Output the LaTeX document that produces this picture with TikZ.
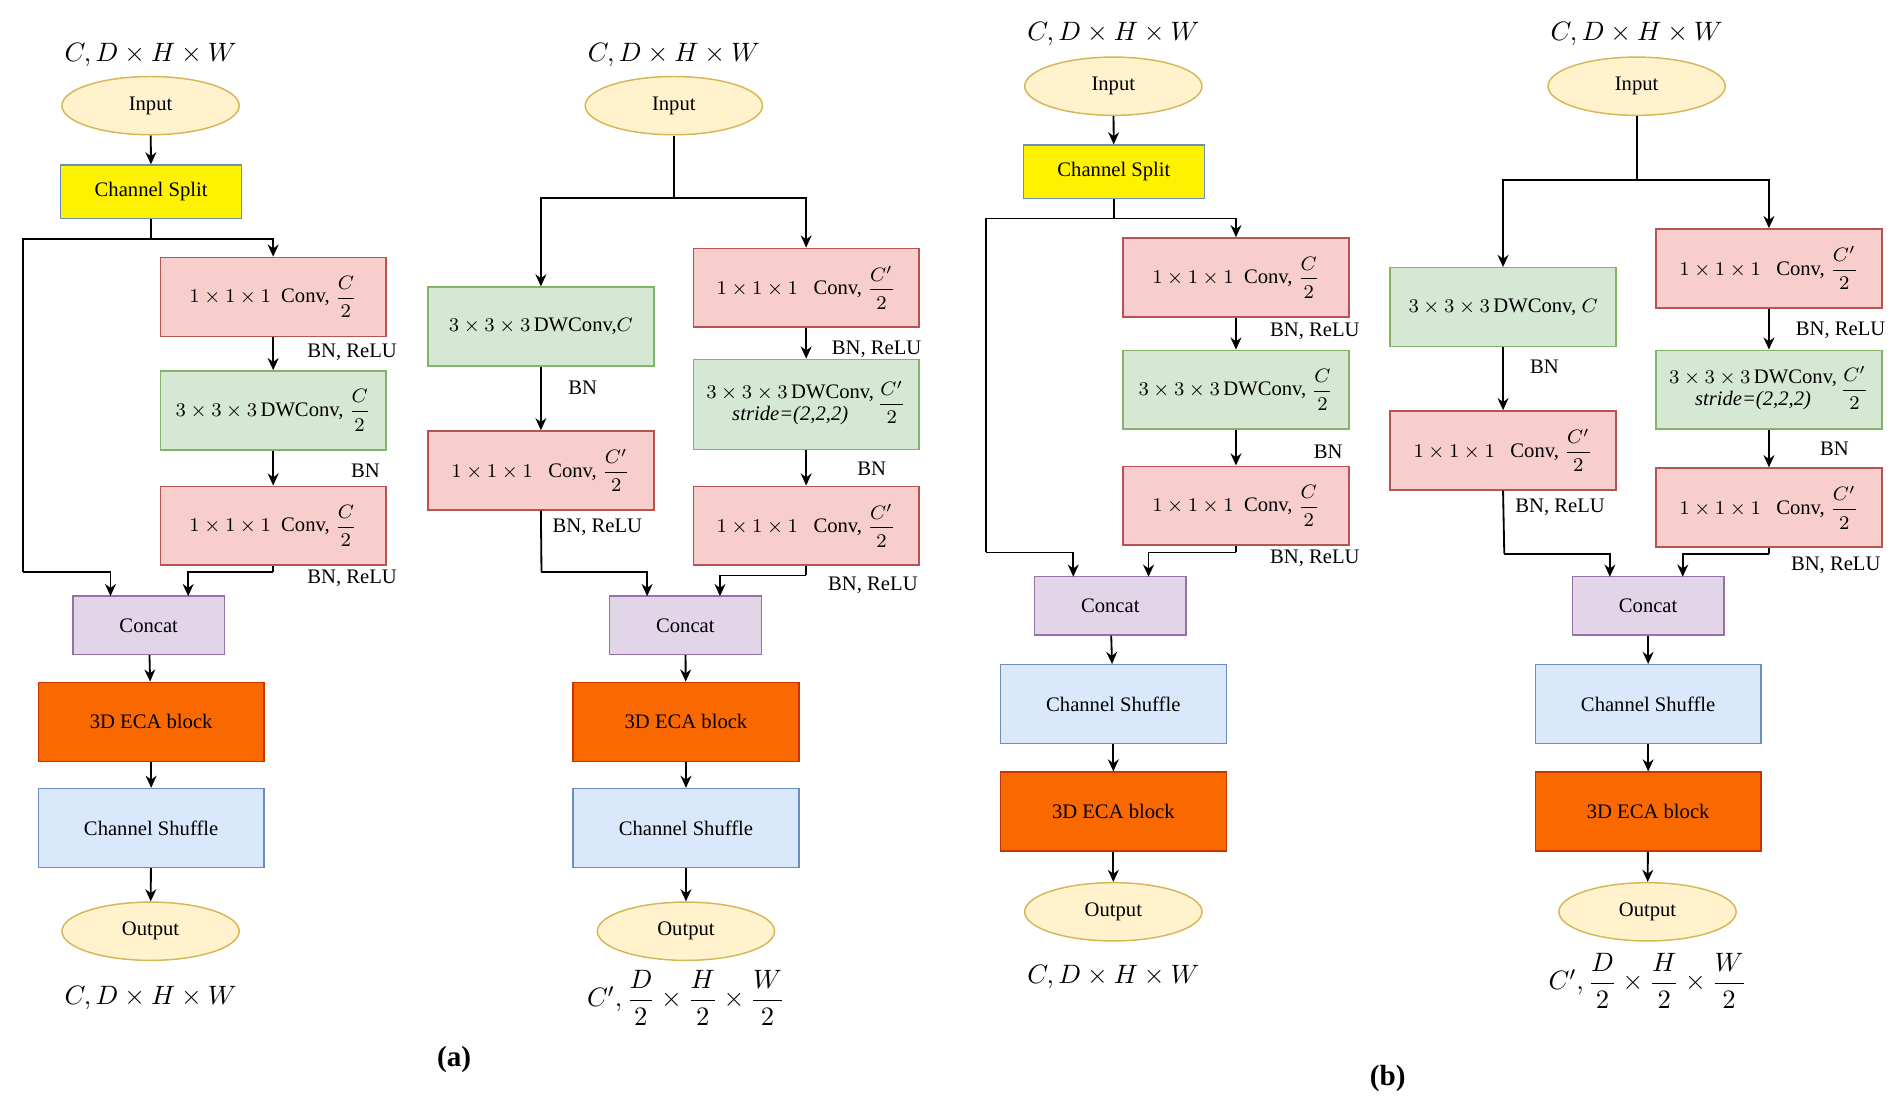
\documentclass[tikz,border=0pt]{standalone}
\usepackage{amsmath}
\usepackage{fontspec}
\setmainfont{Liberation Serif}
\usetikzlibrary{arrows.meta,shapes.geometric}
\begin{document}
\begin{tikzpicture}[x=0.5pt,y=-0.5pt,
 base/.style={draw,line width=0.6pt,inner sep=0pt,align=center,font=\rmfamily\fontsize{8.5}{10}\selectfont},
 bx/.style={base,rectangle,minimum width=93pt,minimum height=32.5pt},
 red/.style={bx,fill={rgb,255:red,248;green,206;blue,204},draw={rgb,255:red,184;green,84;blue,80}},
 grn/.style={bx,fill={rgb,255:red,213;green,232;blue,212},draw={rgb,255:red,130;green,179;blue,102}},
 blu/.style={bx,fill={rgb,255:red,218;green,232;blue,252},draw={rgb,255:red,108;green,142;blue,191}},
 org/.style={bx,fill={rgb,255:red,250;green,104;blue,0},draw={rgb,255:red,199;green,53;blue,0}},
 pur/.style={base,rectangle,minimum width=62.5pt,minimum height=24pt,fill={rgb,255:red,225;green,213;blue,231},draw={rgb,255:red,150;green,115;blue,166}},
 spl/.style={base,rectangle,minimum width=74.5pt,minimum height=22pt,fill=yellow,draw={rgb,255:red,108;green,142;blue,191}},
 ell/.style={base,ellipse,minimum width=73pt,minimum height=24pt,fill={rgb,255:red,255;green,242;blue,204},draw={rgb,255:red,214;green,182;blue,86}},
 lab/.style={font=\fontsize{11}{13}\selectfont},
 nt/.style={font=\rmfamily\fontsize{8.5}{10}\selectfont,inner sep=0pt},
 arr/.style={line width=0.75pt,-{Stealth[length=5pt,width=4.5pt]}},
 ln/.style={line width=0.75pt}]
\useasboundingbox (0,0) rectangle (1560,907);
\def\convC{$1\times1\times1$~~Conv, $\dfrac{C}{2}$}
\def\convCp{$1\times1\times1$~~~Conv, $\dfrac{C'}{2}$}
\def\dwC{$3\times3\times3$\,DWConv, $\dfrac{C}{2}$}
\def\dwS{\begin{tabular}{@{}c@{}}$3\times3\times3$\,DWConv,\\[-1pt] \textit{stride=(2,2,2)}\end{tabular}\,$\dfrac{C'}{2}$}
% ---------- panel 1
\node[lab] (l1) at (124,45) {$C,D\times H\times W$};
\node[ell] (in1) at (124,87) {Input};
\node[spl] (sp1) at (124.5,158) {Channel Split};
\node[red] (a1) at (225,244.5) {\convC};
\node[grn] (b1) at (225,338) {\dwC};
\node[red] (c1) at (225,433) {\convC};
\node[pur] (cc1) at (122.5,515) {Concat};
\node[org] (e1) at (124.5,594.5) {3D ECA block};
\node[blu] (s1) at (124.5,682) {Channel Shuffle};
\node[ell] (o1) at (124,767) {Output};
\node[lab] (lo1) at (124,822) {$C,D\times H\times W$};
\node[nt] at (290,290) {BN, ReLU};
\node[nt] at (301,388) {BN};
\node[nt] at (290,476) {BN, ReLU};
\node[font=\rmfamily\bfseries\fontsize{12}{14}\selectfont] at (374,873) {(a)};
\coordinate (j1) at (124.5,197); \coordinate (k1) at (19,471); \coordinate (t1) at (91,491);
\coordinate (m1) at (225,471); \coordinate (u1) at (155,491);
\draw[arr] (in1) -- (sp1);
\draw[arr] (sp1.south) -- (j1) -| (a1.north);
\draw[ln] (j1) -| (k1);
\draw[arr] (k1) -| (t1);
\draw[arr] (a1) -- (b1); \draw[arr] (b1) -- (c1);
\draw[ln] (c1.south) -- (m1);
\draw[arr] (m1) -| (u1);
\draw[arr] (cc1) -- (e1); \draw[arr] (e1) -- (s1); \draw[arr] (s1) -- (o1);
% ---------- panel 2
\node[lab] (l2) at (555,45) {$C,D\times H\times W$};
\node[ell] (in2) at (555,87) {Input};
\node[grn] (a2) at (445.5,269) {$3\times3\times3$\,DWConv,$C$};
\node[red] (b2) at (445.5,387.5) {\convCp};
\node[red] (c2) at (664,237) {\convCp};
\node[grn,minimum height=37pt] (d2) at (664,333) {\dwS};
\node[red] (f2) at (664,433) {\convCp};
\node[pur] (cc2) at (564.5,515) {Concat};
\node[org] (e2) at (565,594.5) {3D ECA block};
\node[blu] (s2) at (565,682) {Channel Shuffle};
\node[ell] (o2) at (565,767) {Output};
\node[lab] (lo2) at (565,822) {$C',\dfrac{D}{2}\times\dfrac{H}{2}\times\dfrac{W}{2}$};
\node[nt] at (480,319) {BN};
\node[nt] at (492,434) {BN, ReLU};
\node[nt] at (722,288) {BN, ReLU};
\node[nt] at (718,386) {BN};
\node[nt] at (719,482) {BN, ReLU};
\coordinate (j2) at (555,163); \coordinate (m2) at (446,471); \coordinate (t2) at (533,491);
\coordinate (n2) at (664,474); \coordinate (u2) at (593,491);
\draw[ln] (in2) -- (j2);
\draw[arr] (j2) -| (a2.north); \draw[arr] (j2) -| (c2.north);
\draw[arr] (a2) -- (b2); \draw[arr] (c2) -- (d2); \draw[arr] (d2) -- (f2);
\draw[ln] (b2.south) -- (m2); \draw[arr] (m2) -| (t2);
\draw[ln] (f2.south) -- (n2); \draw[arr] (n2) -| (u2);
\draw[arr] (cc2) -- (e2); \draw[arr] (e2) -- (s2); \draw[arr] (s2) -- (o2);
% ---------- panel 3
\node[lab] (l3) at (917,28) {$C,D\times H\times W$};
\node[ell] (in3) at (917,71) {Input};
\node[spl] (sp3) at (917.5,141.5) {Channel Split};
\node[red] (a3) at (1018,228.5) {\convC};
\node[grn] (b3) at (1018,321) {\dwC};
\node[red] (c3) at (1018,416.5) {\convC};
\node[pur] (cc3) at (914.5,499) {Concat};
\node[blu] (s3) at (917,580) {Channel Shuffle};
\node[org] (e3) at (917,668.5) {3D ECA block};
\node[ell] (o3) at (917,751) {Output};
\node[lab] (lo3) at (917,805) {$C,D\times H\times W$};
\node[nt] at (1083,273) {BN, ReLU};
\node[nt] at (1094,372) {BN};
\node[nt] at (1083,460) {BN, ReLU};
\node[font=\rmfamily\bfseries\fontsize{12}{14}\selectfont] at (1143,888) {(b)};
\coordinate (j3) at (917.5,180); \coordinate (k3) at (812,455); \coordinate (t3) at (884,475);
\coordinate (m3) at (1018,455); \coordinate (u3) at (946,475);
\draw[arr] (in3) -- (sp3);
\draw[arr] (sp3.south) -- (j3) -| (a3.north);
\draw[ln] (j3) -| (k3);
\draw[arr] (k3) -| (t3);
\draw[arr] (a3) -- (b3); \draw[arr] (b3) -- (c3);
\draw[ln] (c3.south) -- (m3); \draw[arr] (m3) -| (u3);
\draw[arr] (cc3) -- (s3); \draw[arr] (s3) -- (e3); \draw[arr] (e3) -- (o3);
% ---------- panel 4
\node[lab] (l4) at (1348,28) {$C,D\times H\times W$};
\node[ell] (in4) at (1348,71) {Input};
\node[grn] (a4) at (1238,253) {$3\times3\times3$\,DWConv, $C$};
\node[red] (b4) at (1238,371) {\convCp};
\node[red] (c4) at (1457,221) {\convCp};
\node[grn] (d4) at (1457,321) {\dwS};
\node[red] (f4) at (1457,418) {\convCp};
\node[pur] (cc4) at (1357.5,499) {Concat};
\node[blu] (s4) at (1357.5,580) {Channel Shuffle};
\node[org] (e4) at (1357.5,668.5) {3D ECA block};
\node[ell] (o4) at (1357,751) {Output};
\node[lab] (lo4) at (1357,808) {$C',\dfrac{D}{2}\times\dfrac{H}{2}\times\dfrac{W}{2}$};
\node[nt] at (1272,302) {BN};
\node[nt] at (1285,418) {BN, ReLU};
\node[nt] at (1516,272) {BN, ReLU};
\node[nt] at (1511,370) {BN};
\node[nt] at (1512,466) {BN, ReLU};
\coordinate (j4) at (1348,148); \coordinate (m4) at (1239,456); \coordinate (t4) at (1326,475);
\coordinate (n4) at (1457,456); \coordinate (u4) at (1386,475);
\draw[ln] (in4) -- (j4);
\draw[arr] (j4) -| (a4.north); \draw[arr] (j4) -| (c4.north);
\draw[arr] (a4) -- (b4); \draw[arr] (c4) -- (d4); \draw[arr] (d4) -- (f4);
\draw[ln] (b4.south) -- (m4); \draw[arr] (m4) -| (t4);
\draw[ln] (f4.south) -- (n4); \draw[arr] (n4) -| (u4);
\draw[arr] (cc4) -- (s4); \draw[arr] (s4) -- (e4); \draw[arr] (e4) -- (o4);
\end{tikzpicture}
\end{document}
